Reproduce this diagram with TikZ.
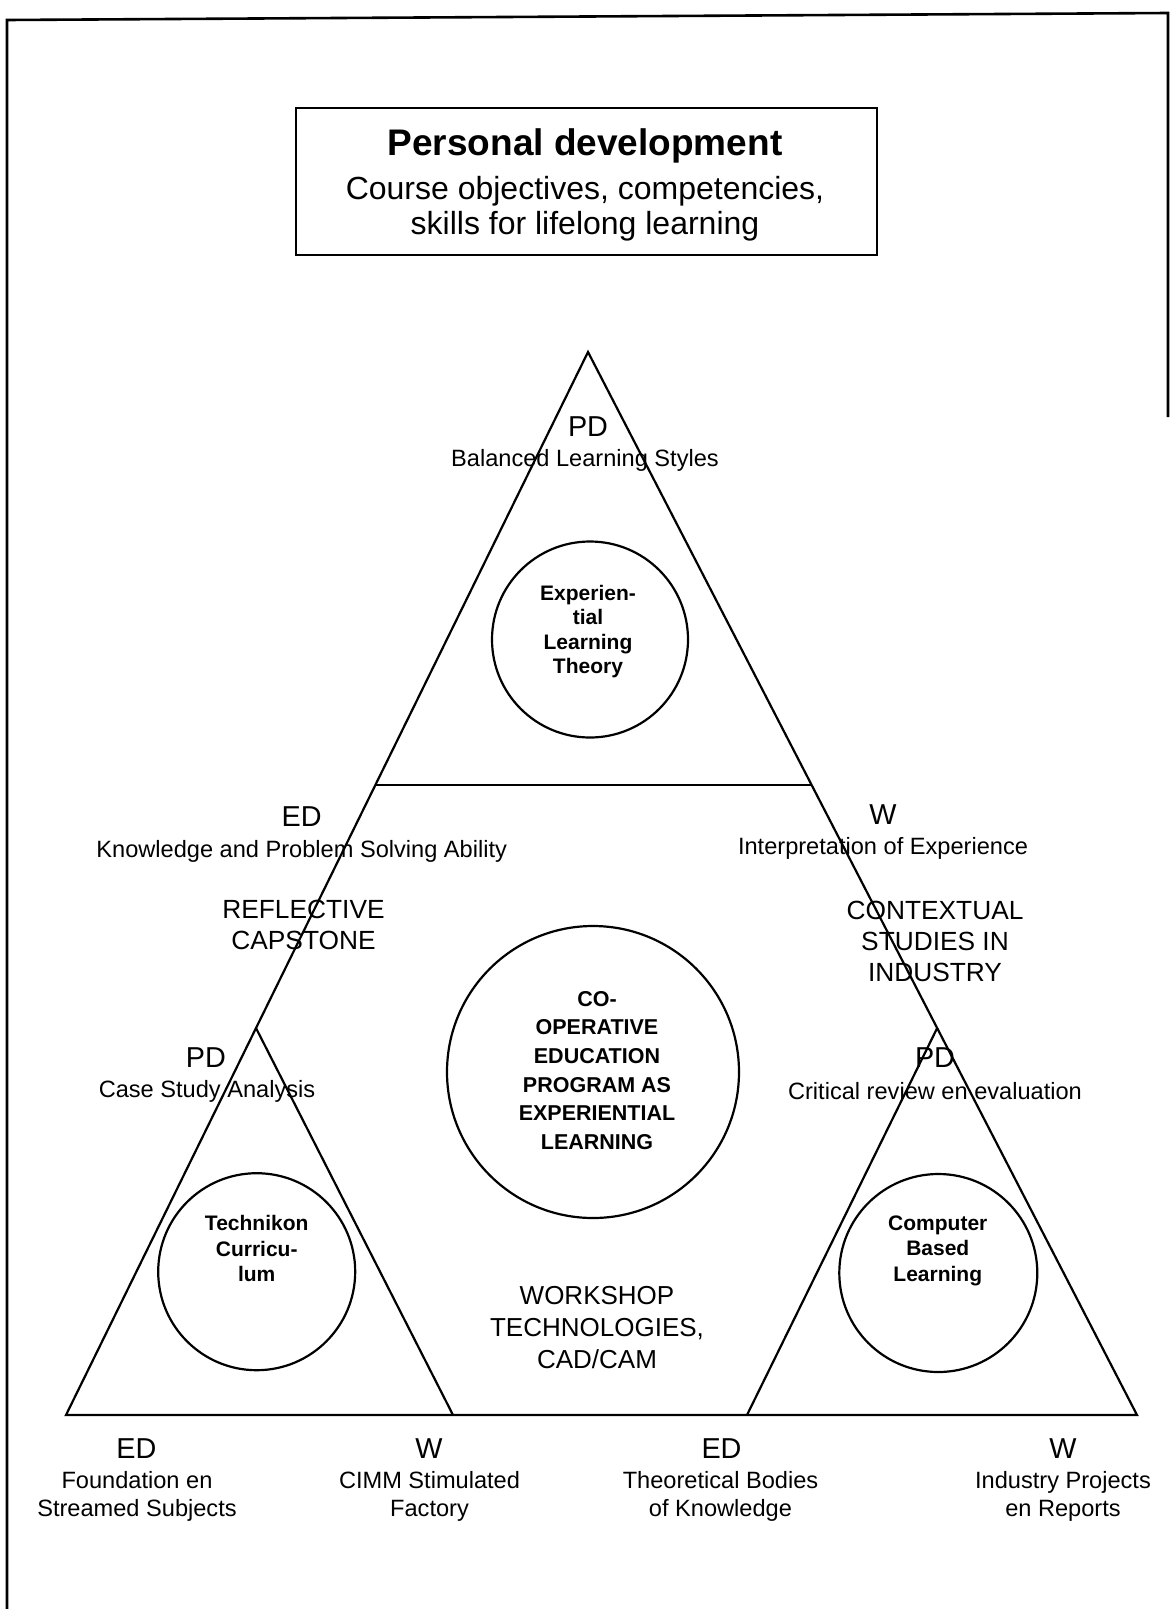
\documentclass[tikz,border=0pt]{standalone}
\usepackage{fontspec}
\setmainfont{Liberation Sans}
\usetikzlibrary{calc}
\begin{document}
\begin{tikzpicture}[x=1pt,y=-1pt,
  frame/.style={line width=2.6pt},
  edge/.style={line width=2.2pt, line join=miter},
  ring/.style={circle, draw, line width=2.2pt, inner sep=0pt},
  corner/.style={font=\fontsize{28.8}{32}\selectfont, inner sep=0pt},
  aim/.style={font=\fontsize{23.6}{28}\selectfont, align=center, inner sep=0pt},
  theme/.style={font=\fontsize{26.3}{31}\selectfont, align=center, inner sep=0pt},
  core/.style={font=\fontsize{21}{25.5}\selectfont\bfseries, align=center, inner sep=0pt},
]
\useasboundingbox (0,0) rectangle (1171,1609);

% page frame
\draw[frame] (1168,417) -- (1168,13) -- (7,20) -- (7,1609);

% heading box
\node[draw, line width=1.8pt, minimum width=581pt, minimum height=147pt, inner sep=0pt] (goal) at (586.5,181.5) {};
\node[align=center, inner sep=0pt, font=\fontsize{32}{35}\selectfont] (goaltext) at (585,185)
  {{\fontsize{37}{40}\selectfont\bfseries Personal development}\\[9pt]Course objectives, competencies,\\skills for lifelong learning};

% triangles
\coordinate (apex) at (588,352);
\coordinate (bl) at (66,1415);
\coordinate (br) at (1137,1415);
\coordinate (cutl) at ($(apex)!0.4073!(bl)$);
\coordinate (cutr) at ($(apex)!0.4073!(br)$);
\coordinate (lapex) at ($(apex)!0.636!(bl)$);
\coordinate (rapex) at ($(apex)!0.636!(br)$);
\coordinate (lfoot) at (453,1415);
\coordinate (rfoot) at (747,1415);
\draw[edge] (apex) -- (bl) -- (br) -- cycle;
\draw[edge] (cutl) -- (cutr);
\draw[edge] (lapex) -- (lfoot);
\draw[edge] (rapex) -- (rfoot);

% circles
\node[ring, minimum size=196pt] (elt) at (590,639.5) {};
\node[ring, minimum size=292pt] (coop) at (593,1072) {};
\node[ring, minimum size=197pt] (tc) at (256.7,1271.7) {};
\node[ring, minimum size=198pt] (cbl) at (938.3,1273) {};

\node[core, font=\fontsize{21}{24.3}\selectfont\bfseries] (elttext) at (588,631.5) {Experien-\\tial\\Learning\\Theory};
\node[core, font=\fontsize{21.5}{28.7}\selectfont\bfseries] (cooptext) at (597,1070.5)
  {CO-\\OPERATIVE\\EDUCATION\\PROGRAM AS\\EXPERIENTIAL\\LEARNING};
\node[core] (tctext) at (256.7,1248.5) {Technikon\\Curricu-\\lum};
\node[core] (cbltext) at (937.8,1250.5) {Computer\\Based\\Learning};

% corner labels of the upper triangle
\node[corner] (pdtop) at (588,426.7) {PD};
\node[aim] (pdtopaim) at (585,460) {Balanced Learning Styles};
\node[corner] (edmid) at (301.7,816.7) {ED};
\node[aim] (edmidaim) at (301.7,851) {Knowledge and Problem Solving Ability};
\node[corner] (wmid) at (883,815) {W};
\node[aim] (wmidaim) at (883,848) {Interpretation of Experience};

% themes
\node[theme] (reflect) at (303.5,925.3) {REFLECTIVE\\CAPSTONE};
\node[theme] (context) at (935,941) {CONTEXTUAL\\STUDIES IN\\INDUSTRY};
\node[theme, font=\fontsize{26}{32}\selectfont] (workshop) at (597,1328) {WORKSHOP\\TECHNOLOGIES,\\CAD/CAM};

% lower triangles
\node[corner] (pdleft) at (206,1058) {PD};
\node[aim] (pdleftaim) at (207,1091.7) {Case Study Analysis};
\node[corner] (pdright) at (935,1058) {PD};
\node[aim] (pdrightaim) at (935,1091) {Critical review en evaluation};

% base labels
\node[corner] (ed1) at (136.5,1449) {ED};
\node[aim] (ed1aim) at (137,1496) {Foundation en\\Streamed Subjects};
\node[corner] (w1) at (429,1449) {W};
\node[aim] (w1aim) at (429.5,1496) {CIMM Stimulated\\Factory};
\node[corner] (ed2) at (721.5,1449) {ED};
\node[aim] (ed2aim) at (720.5,1496) {Theoretical Bodies\\of Knowledge};
\node[corner] (w2) at (1063,1449) {W};
\node[aim] (w2aim) at (1063,1496) {Industry Projects\\en Reports};
\end{tikzpicture}
\end{document}
